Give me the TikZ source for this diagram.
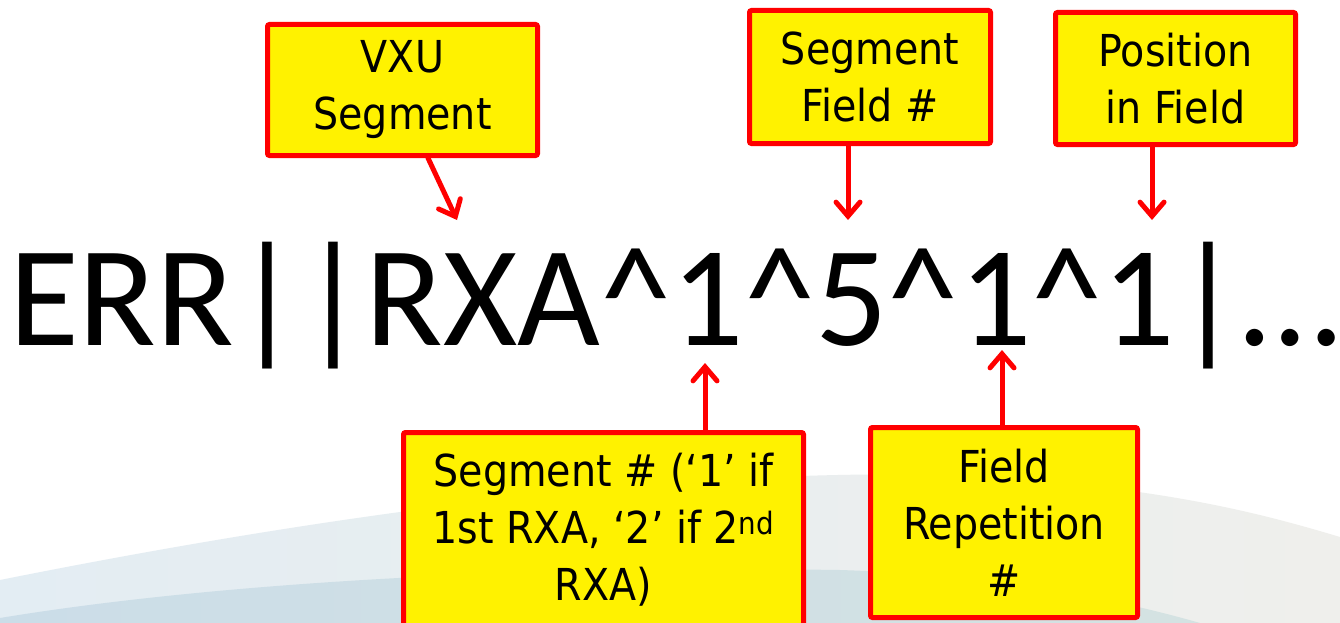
\documentclass[tikz,border=0pt]{standalone}
\usepackage{fontspec}
\setmainfont{Carlito}
\newfontfamily\boxfont{DejaVu Sans Condensed}
\usetikzlibrary{arrows.meta}
\definecolor{bandhiL}{HTML}{E3EDF3}
\definecolor{bandhiR}{HTML}{EFEFEC}
\definecolor{bandloL}{HTML}{CBDDE8}
\definecolor{bandloR}{HTML}{D4E2E2}
\tikzset{
  callout/.style={draw=red, line width=5pt, fill=yellow, rounded corners=2pt,
    align=center, inner sep=0pt, font=\boxfont\fontsize{44}{57}\selectfont},
  pointer/.style={red, line width=5pt, line cap=round,
    -{Straight Barb[length=14pt, width=24pt, line cap=round]}},
}
\begin{document}
\begin{tikzpicture}[x=1pt, y=-1pt]
\useasboundingbox (0,0) rectangle (1340,623);
\fill[white] (0,0) rectangle (1340,623);

% soft swoosh along the bottom
\shade[left color=bandhiL, right color=bandhiR]
  (0,623) -- (0,580) .. controls (300,520) and (650,468) .. (950,475)
  .. controls (1150,485) and (1250,510) .. (1340,537) -- (1340,623) -- cycle;
\shade[left color=bandloL, right color=bandloR]
  (0,623) -- (0,618) .. controls (200,585) and (500,565) .. (840,570)
  .. controls (1000,575) and (1120,600) .. (1200,623) -- cycle;

% the message line
\node[anchor=base west, inner sep=0pt, font=\fontsize{143}{143}\selectfont] (msg)
  at (9,345) {ERR||RXA\textasciicircum1\textasciicircum5\textasciicircum1\textasciicircum1|…};

% callouts
\node[callout, minimum width=270pt, minimum height=131pt] (vxu) at (402.5,90)
  {VXU\\Segment};
\node[callout, minimum width=241pt, minimum height=133pt] (segfield) at (870,77)
  {Segment\\Field \#};
\node[callout, minimum width=240pt, minimum height=132pt] (posfield) at (1175.5,78.5)
  {Position\\in Field};
\node[callout, minimum width=400pt, minimum height=195pt] (segnum) at (603.5,530)
  {Segment \# (‘1’ if\\1st RXA, ‘2’ if 2\textsuperscript{nd}\\RXA)};
\node[callout, minimum width=267pt, minimum height=190pt] (fieldrep) at (1004,522.5)
  {Field\\Repetition\\\#};

% arrow targets on the message line
\coordinate (tVxu) at (457,220);
\coordinate (tSegField) at (848,220);
\coordinate (tPosField) at (1152,220);
\coordinate (tSegNum) at (705,363);
\coordinate (tFieldRep) at (1002,350);

\draw[pointer] ([xshift=25.5pt]vxu.south) -- (tVxu);
\draw[pointer] ([xshift=-22pt]segfield.south) -- (tSegField);
\draw[pointer] ([xshift=-23.5pt]posfield.south) -- (tPosField);
\draw[pointer] ([xshift=101.5pt]segnum.north) -- (tSegNum);
\draw[pointer] ([xshift=-2pt]fieldrep.north) -- (tFieldRep);
\end{tikzpicture}
\end{document}
